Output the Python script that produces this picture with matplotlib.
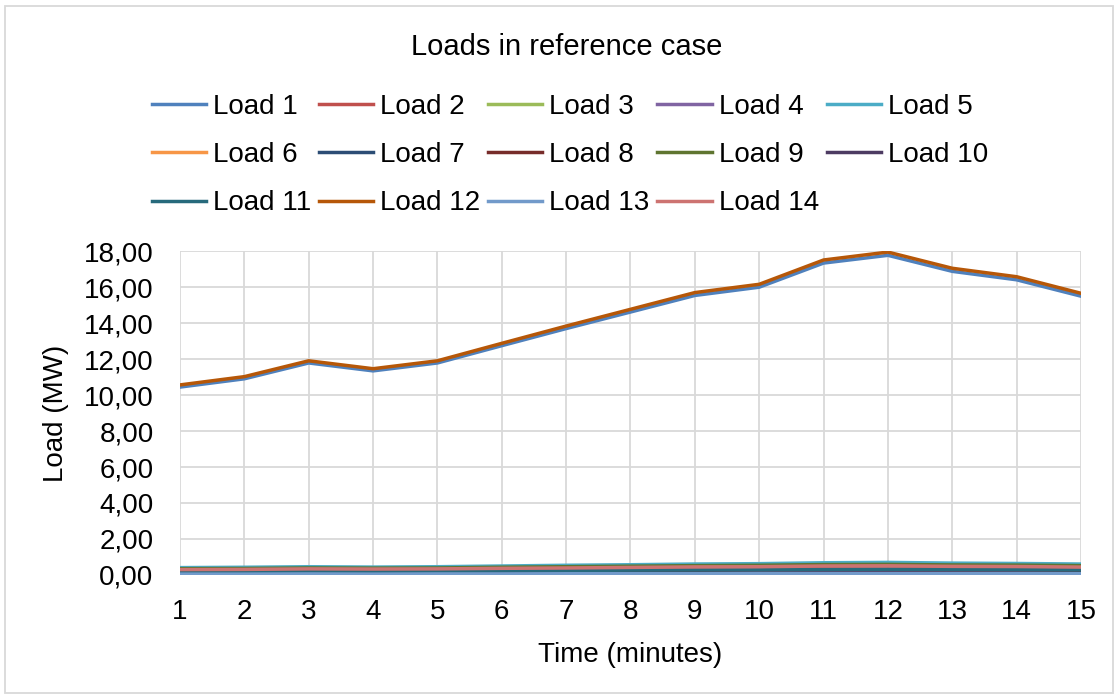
import matplotlib.pyplot as plt
from matplotlib.ticker import FuncFormatter, MultipleLocator
from matplotlib.patches import Rectangle

plt.rcParams['font.family'] = ['Liberation Sans', 'DejaVu Sans']

minutes = list(range(1, 16))

load_1 = [10.44, 10.90, 11.78, 11.34, 11.78, 12.74, 13.69, 14.61, 15.53, 15.99, 17.33, 17.76, 16.87, 16.40, 15.49]
load_2 = [0.29, 0.30, 0.33, 0.32, 0.33, 0.36, 0.38, 0.41, 0.44, 0.45, 0.49, 0.50, 0.47, 0.46, 0.43]
load_3 = [0.36, 0.37, 0.40, 0.39, 0.40, 0.44, 0.47, 0.50, 0.53, 0.55, 0.59, 0.61, 0.58, 0.56, 0.53]
load_4 = [0.08, 0.08, 0.09, 0.09, 0.09, 0.10, 0.10, 0.11, 0.12, 0.12, 0.13, 0.14, 0.13, 0.13, 0.12]
load_5 = [0.41, 0.43, 0.46, 0.44, 0.46, 0.50, 0.54, 0.57, 0.61, 0.63, 0.68, 0.70, 0.66, 0.64, 0.61]
load_6 = [0.06, 0.06, 0.07, 0.07, 0.07, 0.07, 0.08, 0.08, 0.09, 0.09, 0.10, 0.10, 0.10, 0.09, 0.09]
load_7 = [0.10, 0.10, 0.11, 0.11, 0.11, 0.12, 0.13, 0.14, 0.15, 0.15, 0.17, 0.17, 0.16, 0.16, 0.15]
load_8 = [0.12, 0.13, 0.14, 0.13, 0.14, 0.15, 0.16, 0.17, 0.18, 0.18, 0.20, 0.20, 0.19, 0.19, 0.18]
load_9 = [0.35, 0.36, 0.39, 0.38, 0.39, 0.43, 0.46, 0.49, 0.52, 0.54, 0.58, 0.59, 0.56, 0.55, 0.52]
load_10 = [0.07, 0.07, 0.08, 0.08, 0.08, 0.09, 0.09, 0.10, 0.10, 0.11, 0.12, 0.12, 0.11, 0.11, 0.10]
load_11 = [0.19, 0.20, 0.21, 0.21, 0.21, 0.23, 0.25, 0.27, 0.28, 0.29, 0.31, 0.32, 0.31, 0.30, 0.28]
load_12 = [10.56, 11.02, 11.90, 11.46, 11.90, 12.87, 13.83, 14.76, 15.69, 16.15, 17.50, 17.94, 17.04, 16.57, 15.65]
load_13 = [0.05, 0.05, 0.06, 0.05, 0.06, 0.06, 0.07, 0.07, 0.07, 0.08, 0.08, 0.08, 0.08, 0.08, 0.07]
load_14 = [0.30, 0.31, 0.34, 0.33, 0.34, 0.37, 0.39, 0.42, 0.45, 0.46, 0.50, 0.51, 0.48, 0.47, 0.44]

loads = [load_1, load_2, load_3, load_4, load_5, load_6, load_7,
         load_8, load_9, load_10, load_11, load_12, load_13, load_14]
names = [f"Load {i}" for i in range(1, 15)]
colors = ['#4F81BD', '#C0504D', '#9BBB59', '#8064A2', '#4BACC6', '#F79646', '#2C4D75',
          '#772C2A', '#5F7530', '#4D3B62', '#276A7C', '#B65708', '#729ACA', '#CD7371']

W, H = 1118, 698
fig = plt.figure(figsize=(W / 100, H / 100), dpi=100)
ax = fig.add_axes([180 / W, 1 - 575 / H, (1081 - 180) / W, (575 - 251) / H])

lines = []
for vals, name, c in zip(loads, names, colors):
    ln, = ax.plot(minutes, vals, color=c, lw=2.5, label=name, solid_joinstyle='round')
    lines.append(ln)

ax.set_xlim(1, 15)
ax.set_ylim(0, 18)
ax.set_xticks(minutes)
ax.yaxis.set_major_locator(MultipleLocator(2))
ax.yaxis.set_major_formatter(FuncFormatter(lambda v, p: f"{v:.2f}".replace('.', ',')))
ax.grid(True, color='#D9D9D9', lw=1.3)
ax.set_axisbelow(True)
for s in ax.spines.values():
    s.set_visible(False)
ax.tick_params(length=0, labelsize=20, colors='black')
ax.tick_params(axis='y', pad=19)
ax.tick_params(axis='x', pad=17)

fig.text(567 / W, 1 - 47 / H, "Loads in reference case", ha='center', va='center', fontsize=21)
fig.text(56 / W, 1 - 413 / H, "Load (MW)", rotation=90, ha='center', va='center', fontsize=20)
fig.text(630 / W, 1 - 655 / H, "Time (minutes)", ha='center', va='center', fontsize=20)

# excel fills the legend row by row, matplotlib column by column
order = [0, 5, 10, 1, 6, 11, 2, 7, 12, 3, 8, 13, 4, 9]
fig.legend([lines[i] for i in order], [names[i] for i in order],
           loc='center', bbox_to_anchor=(570 / W, 1 - 155 / H), ncol=5, frameon=False,
           fontsize=20, handlelength=1.95, handletextpad=0.25, columnspacing=0.28,
           labelspacing=0.8, borderpad=0)

fig.add_artist(Rectangle((5 / W, 5 / H), 1 - 10 / W, 1 - 11 / H, transform=fig.transFigure,
                         fill=False, edgecolor='#D9D9D9', lw=1.3))

fig.savefig("out.png", dpi=100)
